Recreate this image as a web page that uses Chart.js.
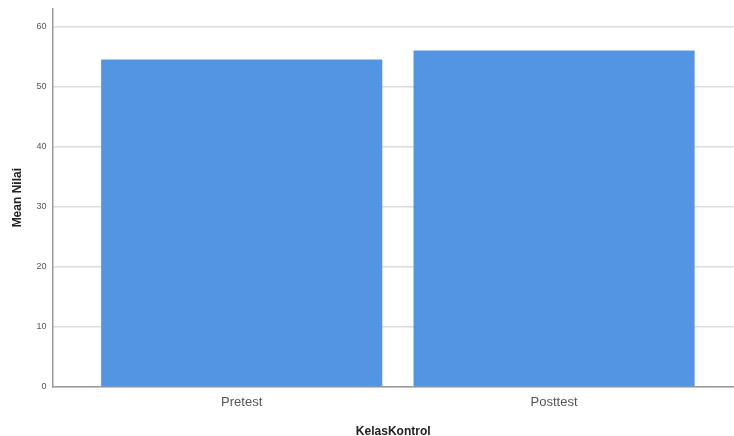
<!DOCTYPE html>
<html>
<head>
<meta charset="utf-8">
<script src="https://cdn.jsdelivr.net/npm/chart.js@4"></script>
<style>
  html, body { margin: 0; padding: 0; background: #fff; overflow: hidden; }
  #wrap { width: 734px; height: 441px; margin-top: -3px; }
</style>
</head>
<body>
<div id="wrap"><canvas id="barChart"></canvas></div>
<script>
const categories = ["Pretest", "Posttest"];
const meanValues = [54.5, 56.0];
const yTicks = [0, 10, 20, 30, 40, 50, 60];

const ctx = document.getElementById("barChart").getContext("2d");
const barChart = new Chart(ctx, {
  type: "bar",
  data: {
    datasets: [
      {
        label: "Mean Nilai",
        data: categories.map((c, i) => ({ x: i, y: meanValues[i] })),
        backgroundColor: "#5495e3",
        borderWidth: 0,
        barPercentage: 0.9,
        categoryPercentage: 1,
      },
    ],
  },
  options: {
    responsive: true,
    maintainAspectRatio: false,
    animation: false,
    layout: { padding: { left: 10, top: 0, right: 0, bottom: 0 } },
    scales: {
      x: {
        type: "linear",
        min: -0.606,
        max: 1.576,
        offset: false,
        bounds: "data",
        afterBuildTicks: (axis) => {
          axis.ticks = categories.map((c, i) => ({ value: i }));
        },
        ticks: {
          color: "#555",
          font: { family: "Liberation Sans", size: 13, lineHeight: 1 },
          padding: 9,
          callback: (v) => categories[v],
        },
        grid: { display: false, drawTicks: false },
        border: { color: "#999", width: 1.5 },
        title: {
          display: true,
          text: "KelasKontrol",
          color: "#222",
          font: { family: "Liberation Sans", size: 12, weight: "bold", lineHeight: 1 },
          padding: { top: 8, bottom: 0 },
        },
      },
      y: {
        min: 0,
        max: 63.0,
        afterBuildTicks: (axis) => {
          axis.ticks = yTicks.map((v) => ({ value: v }));
        },
        ticks: {
          color: "#555",
          font: { family: "Liberation Sans", size: 9 },
          padding: 6,
        },
        grid: { color: "#dcdcdc", lineWidth: 1.5, drawTicks: false },
        border: { color: "#999", width: 1.5 },
        title: {
          display: true,
          text: "Mean Nilai",
          color: "#222",
          font: { family: "Liberation Sans", size: 12, weight: "bold" },
          padding: { top: 0, bottom: 6 },
        },
      },
    },
    plugins: {
      legend: { display: false },
      tooltip: { enabled: false },
    },
  },
});
</script>
</body>
</html>
